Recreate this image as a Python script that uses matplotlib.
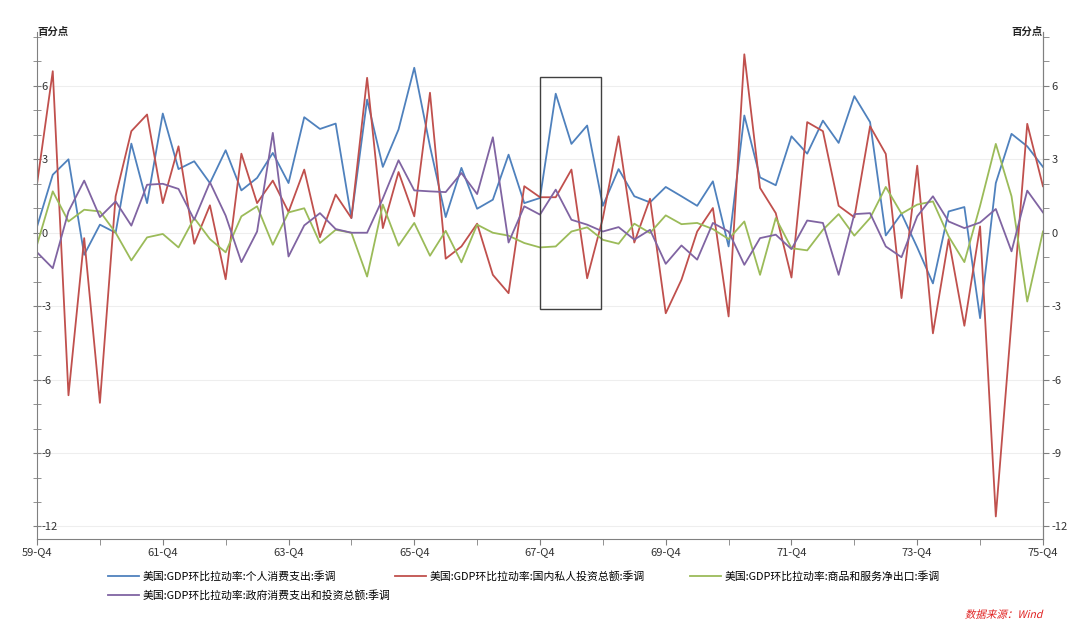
import numpy as np
import matplotlib
matplotlib.use("Agg")
import matplotlib.pyplot as plt
from matplotlib.ticker import MultipleLocator, FixedLocator
from matplotlib.patches import Rectangle, PathPatch
from matplotlib.textpath import TextPath
from matplotlib.font_manager import FontProperties
from matplotlib.transforms import Affine2D, IdentityTransform

plt.rcParams['font.family'] = ['Noto Sans CJK SC', 'DejaVu Sans']
plt.rcParams['axes.unicode_minus'] = False

# quarters 59-Q4 .. 75-Q4
quarters = ['59-Q4'] + [f'{y}-Q{q}' for y in range(60, 75) for q in range(1, 5)] + \
           ['75-Q1', '75-Q2', '75-Q3', '75-Q4']
tick_labels = ['59-Q4', '61-Q4', '63-Q4', '65-Q4', '67-Q4', '69-Q4', '71-Q4', '73-Q4', '75-Q4']

consumption = [0.25, 2.37, 3.0, -0.9, 0.33, 0.0, 3.64, 1.21, 4.87, 2.6,
               2.92, 2.03, 3.37, 1.73, 2.24, 3.26, 2.03, 4.72, 4.24, 4.46,
               0.6, 5.44, 2.69, 4.22, 6.74, 3.53, 0.64, 2.65, 0.98, 1.35,
               3.19, 1.21, 1.42, 5.68, 3.63, 4.38, 1.1, 2.6, 1.49, 1.24,
               1.87, 1.49, 1.1, 2.1, -0.56, 4.79, 2.26, 1.94, 3.94, 3.23,
               4.58, 3.67, 5.58, 4.52, -0.11, 0.78, -0.6, -2.07, 0.87, 1.05,
               -3.49, 2.03, 4.04, 3.53, 2.69]
investment = [2.0, 6.6, -6.64, -0.22, -6.95, 1.49, 4.15, 4.83, 1.21, 3.53,
              -0.45, 1.12, -1.9, 3.23, 1.21, 2.13, 0.85, 2.58, -0.18, 1.56,
              0.6, 6.33, 0.19, 2.48, 0.67, 5.72, -1.06, -0.56, 0.37, -1.72,
              -2.47, 1.9, 1.45, 1.45, 2.58, -1.86, 0.6, 3.94, -0.4, 1.39,
              -3.29, -1.92, 0.05, 1.01, -3.42, 7.29, 1.83, 0.8, -1.83, 4.52,
              4.15, 1.1, 0.63, 4.35, 3.22, -2.67, 2.74, -4.11, -0.26, -3.8,
              0.26, -11.59, -3.6, 4.45, 1.9]
net_exports = [-0.49, 1.69, 0.46, 0.94, 0.87, 0.0, -1.13, -0.19, -0.05, -0.6,
               0.6, -0.26, -0.8, 0.67, 1.08, -0.49, 0.83, 1.0, -0.42, 0.12,
               0.0, -1.79, 1.15, -0.53, 0.4, -0.94, 0.08, -1.21, 0.33, 0.0,
               -0.12, -0.42, -0.6, -0.56, 0.05, 0.22, -0.29, -0.45, 0.37, -0.01,
               0.71, 0.35, 0.4, 0.15, -0.26, 0.46, -1.72, 0.6, -0.63, -0.72,
               0.12, 0.76, -0.12, 0.6, 1.87, 0.78, 1.15, 1.28, -0.15, -1.2,
               1.1, 3.63, 1.49, -2.81, 0.05]
government = [-0.8, -1.45, 0.87, 2.13, 0.64, 1.28, 0.29, 1.96, 2.0, 1.79,
              0.53, 2.06, 0.7, -1.2, 0.05, 4.08, -0.97, 0.3, 0.8, 0.15,
              0.0, 0.0, 1.4, 2.96, 1.73, 1.69, 1.66, 2.44, 1.58, 3.9,
              -0.4, 1.08, 0.74, 1.76, 0.53, 0.33, 0.05, 0.23, -0.28, 0.12,
              -1.27, -0.52, -1.1, 0.4, 0.05, -1.31, -0.22, -0.08, -0.67, 0.5,
              0.4, -1.72, 0.76, 0.8, -0.56, -1.0, 0.67, 1.49, 0.46, 0.19,
              0.42, 0.97, -0.76, 1.72, 0.83]

names = ['美国:GDP环比拉动率:个人消费支出:季调',
         '美国:GDP环比拉动率:国内私人投资总额:季调',
         '美国:GDP环比拉动率:商品和服务净出口:季调',
         '美国:GDP环比拉动率:政府消费支出和投资总额:季调']
colors = ['#4F81BD', '#C0504D', '#9BBB59', '#8064A2']

x = np.arange(len(quarters))

fig = plt.figure(figsize=(10.8, 6.23), dpi=100)
ax = fig.add_axes([0.0343, 0.1353, 0.9314, 0.8133])

lines = []
for vals, name, c in zip([consumption, investment, net_exports, government], names, colors):
    ln, = ax.plot(x, vals, color=c, lw=1.3, label=name)
    lines.append(ln)

# highlight box around 67-Q4 .. 68-Q4
ax.add_patch(Rectangle((32, -3.12), 3.9, 9.48, fill=False, ec='#404040', lw=1.0, zorder=5))

ax.set_xlim(0, len(quarters) - 1)
ax.set_ylim(-12.5, 8.2)
ax.xaxis.set_major_locator(FixedLocator([quarters.index(t) for t in tick_labels]))
ax.set_xticklabels(tick_labels)
ax.xaxis.set_minor_locator(FixedLocator([quarters.index(t) + 4 for t in tick_labels[:-1]]))
ax.yaxis.set_major_locator(MultipleLocator(3))
ax.yaxis.set_minor_locator(MultipleLocator(1))
ax.grid(axis='y', which='major', color='#eeeeee', lw=0.8)
ax.set_axisbelow(True)

axis_c = '#808080'
for s in ['left', 'bottom', 'right']:
    ax.spines[s].set_color(axis_c)
ax.spines['top'].set_visible(False)
ax.tick_params(axis='x', which='both', direction='out', length=4, color=axis_c,
               labelsize=8, labelcolor='#333333', pad=2)
ax.tick_params(axis='y', which='both', direction='inout', length=6, color=axis_c,
               labelsize=8, labelcolor='#333333', pad=-6)
for lab in ax.get_yticklabels():
    lab.set_horizontalalignment('left')

ax2 = ax.twinx()
ax2.set_ylim(ax.get_ylim())
ax2.yaxis.set_major_locator(MultipleLocator(3))
ax2.yaxis.set_minor_locator(MultipleLocator(1))
ax2.spines['right'].set_color(axis_c)
for s in ['left', 'top', 'bottom']:
    ax2.spines[s].set_visible(False)
ax2.tick_params(axis='y', which='both', direction='out', length=4, color=axis_c,
                labelsize=8, labelcolor='#333333', pad=2)

ax.text(0.0, 1.0, '百分点', transform=ax.transAxes, ha='left', va='center',
        fontsize=7.5, fontweight='bold', color='#222222')
ax.text(1.0, 1.0, '百分点', transform=ax.transAxes, ha='right', va='center',
        fontsize=7.5, fontweight='bold', color='#222222')

# legend: three column blocks placed where the reference has them
leg_kw = dict(loc='upper left', frameon=False, fontsize=7.8, handlelength=2.9,
              handletextpad=0.3, labelspacing=0.75, borderaxespad=0, borderpad=0)
col_groups = [([0, 3], 108), ([1], 395), ([2], 690)]
for idx, xpx in col_groups:
    fig.legend([lines[i] for i in idx], [names[i] for i in idx],
               bbox_to_anchor=(xpx / 1080, 1 - 571 / 623), **leg_kw)

# italic source note (CJK font has no italic, so skew the glyph outlines)
src = '数据来源：Wind'
tp = TextPath((0, 0), src, size=10.5, prop=FontProperties(family='Noto Sans CJK SC'))
w = tp.get_extents().width
tr = Affine2D().skew_deg(14, 0).translate(1043 - w - 2, 623 - 618)
fig.patches.append(PathPatch(tr.transform_path(tp), transform=IdentityTransform(),
                             fc='#E02020', ec='none', figure=fig))

fig.savefig('out.png', dpi=100)
